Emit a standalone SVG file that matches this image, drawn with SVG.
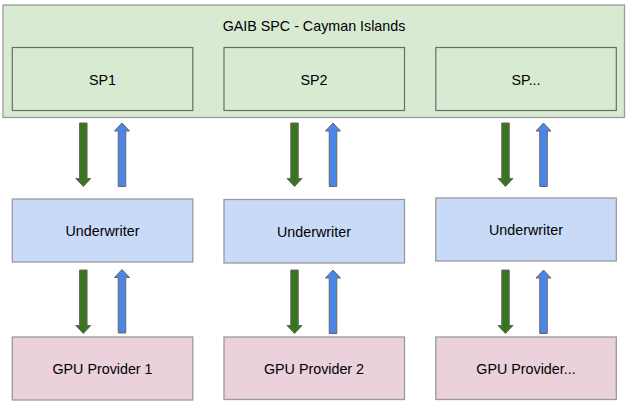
<svg xmlns="http://www.w3.org/2000/svg" width="629" height="405" viewBox="0 0 629 405">
<defs>
<style>
.box{stroke:#9a9a9a;stroke-width:1.3}
.outer{fill:#d9ead3}
.sp{fill:#d9ead3;stroke:#6b6b6b;stroke-width:1.2}
.uw{fill:#c9daf8}
.gpu{fill:#ead1dc}
text{font-family:"Liberation Sans",Arial,sans-serif;font-size:14.3px;fill:#000;text-anchor:middle}
.down{fill:#38761d;stroke:#666;stroke-width:1}
.up{fill:#4a86e8;stroke:#666;stroke-width:1}
</style>
<path id="dn" d="M-3.75,0 H3.75 V55.5 H7.5 L0,63.5 L-7.5,55.5 H-3.75 Z"/>
<path id="upa" d="M0,0 L7.5,8 H3.75 V63.5 H-3.75 V8 H-7.5 Z"/>
</defs>
<rect width="629" height="405" fill="#ffffff"/>
<g id="spc">
<rect class="box outer" x="3" y="5" width="621.5" height="112.5"/>
<text x="314" y="31">GAIB SPC - Cayman Islands</text>
</g>
<g id="sp1">
<rect class="sp" x="12.3" y="47.5" width="180.5" height="63"/>
<text x="102.5" y="85">SP1</text>
</g>
<g id="sp2">
<rect class="sp" x="224" y="47.5" width="180.5" height="63"/>
<text x="314" y="85">SP2</text>
</g>
<g id="sp3">
<rect class="sp" x="435.8" y="47.5" width="180.5" height="63"/>
<text x="526" y="85">SP...</text>
</g>
<g id="uw1">
<rect class="box uw" x="12.3" y="199" width="180.5" height="63"/>
<text x="102.5" y="236">Underwriter</text>
</g>
<g id="uw2">
<rect class="box uw" x="224" y="199.5" width="180.5" height="63.5"/>
<text x="314" y="236.5">Underwriter</text>
</g>
<g id="uw3">
<rect class="box uw" x="435.8" y="198" width="180.5" height="63"/>
<text x="526" y="235">Underwriter</text>
</g>
<g id="gpu1">
<rect class="box gpu" x="12.3" y="337" width="180.5" height="63"/>
<text x="102.5" y="374">GPU Provider 1</text>
</g>
<g id="gpu2">
<rect class="box gpu" x="224" y="337" width="180.5" height="62.5"/>
<text x="314" y="373.5">GPU Provider 2</text>
</g>
<g id="gpu3">
<rect class="box gpu" x="435.8" y="337" width="180.5" height="62.5"/>
<text x="526" y="373.5">GPU Provider...</text>
</g>
<g id="connectors">
<use href="#dn" class="down" x="83.3" y="123"/>
<use href="#upa" class="up" x="122" y="123"/>
<use href="#dn" class="down" x="294.5" y="123"/>
<use href="#upa" class="up" x="333" y="123"/>
<use href="#dn" class="down" x="505.5" y="123"/>
<use href="#upa" class="up" x="543.5" y="123"/>
<use href="#dn" class="down" x="83.3" y="270"/>
<use href="#upa" class="up" x="122" y="269.5"/>
<use href="#dn" class="down" x="294.5" y="270"/>
<use href="#upa" class="up" x="333" y="270"/>
<use href="#dn" class="down" x="505.5" y="270"/>
<use href="#upa" class="up" x="543.5" y="270"/>
</g>
</svg>
